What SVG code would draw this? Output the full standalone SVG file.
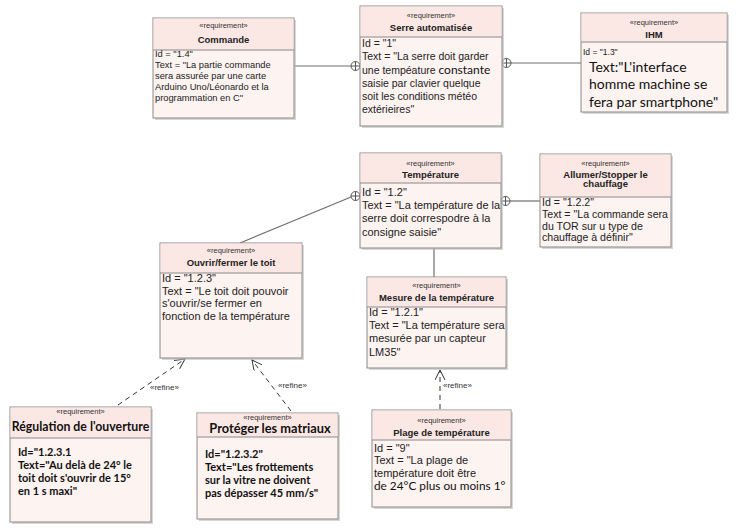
<svg xmlns="http://www.w3.org/2000/svg" width="744" height="531" viewBox="0 0 744 531">
<style>
.sh{fill:#bdbdbd;opacity:0.6}
.box{fill:#fdf3f1;stroke:#8a8a8a;stroke-width:1}
.hd{fill:#fbe8e5}
.sep{stroke:#8a8a8a;stroke-width:1}
.st{font-family:"Liberation Sans",Arial,sans-serif;font-size:7.5px;fill:#333;text-anchor:middle}
.nm{font-family:"Liberation Sans",Arial,sans-serif;font-size:9.5px;font-weight:bold;fill:#222;text-anchor:middle}
.tx{font-family:"Liberation Sans",Arial,sans-serif;fill:#222}
.cb{font-family:Lato,"Liberation Sans",sans-serif;fill:#111}
.bt{font-family:Lato,"Liberation Sans",sans-serif;font-weight:bold;fill:#111}
.ln{stroke:#6e6e6e;stroke-width:1.2;fill:none}
.dl{stroke:#333;stroke-width:1;stroke-dasharray:5 4;fill:none}
.lb{font-family:"Liberation Sans",Arial,sans-serif;font-size:8px;fill:#333}
</style>
<defs>
<g id="cp"><circle cx="0" cy="0" r="4.5" fill="#fff" stroke="#555" stroke-width="1"/><path d="M-4.5,0H4.5M0,-4.5V4.5" stroke="#555" stroke-width="1"/></g>
<marker id="ar" markerWidth="12" markerHeight="12" refX="10" refY="5" orient="auto" markerUnits="userSpaceOnUse"><path d="M0,0 L10,5 L0,10" fill="none" stroke="#333" stroke-width="1"/></marker>
</defs>

<g id="connectors">
<line class="ln" x1="294" y1="66" x2="352" y2="66"/>
<use href="#cp" x="355.5" y="66"/>
<line class="ln" x1="510" y1="63" x2="581" y2="63"/>
<use href="#cp" x="506.5" y="63"/>
<line class="ln" x1="509" y1="201" x2="540" y2="201"/>
<use href="#cp" x="505.5" y="201"/>
<line class="ln" x1="351" y1="197" x2="240" y2="243"/>
<use href="#cp" x="355.5" y="196"/>
<line class="ln" x1="434" y1="248" x2="434" y2="277"/>
<line class="dl" x1="118" y1="405" x2="185" y2="359" marker-end="url(#ar)"/>
<text class="lb" x="150" y="390">«refine»</text>
<line class="dl" x1="291" y1="411" x2="252" y2="360" marker-end="url(#ar)"/>
<text class="lb" x="278" y="388">«refine»</text>
<line class="dl" x1="440" y1="409" x2="440" y2="370" marker-end="url(#ar)"/>
<text class="lb" x="443" y="388">«refine»</text>
</g>

<g id="commande">
<rect class="sh" x="155" y="20" width="141" height="100"/>
<rect class="box" x="153" y="18" width="141" height="100"/>
<rect class="hd" x="153.5" y="18.5" width="140" height="32"/>
<line class="sep" x1="153" y1="50" x2="294" y2="50"/>
<text class="st" x="223.5" y="28">«requirement»</text>
<text class="nm" x="223.5" y="42.5">Commande</text>
<text class="tx" font-size="9.3" x="155"><tspan x="155" y="57">Id = "1.4"</tspan><tspan x="155" y="68">Text = "La partie commande</tspan><tspan x="155" y="79">sera assurée par une carte</tspan><tspan x="155" y="90">Arduino Uno/Léonardo et la</tspan><tspan x="155" y="101">programmation en C"</tspan></text>
</g>

<g id="serre">
<rect class="sh" x="362" y="8" width="142" height="120"/>
<rect class="box" x="360" y="6" width="142" height="120"/>
<rect class="hd" x="360.5" y="6.5" width="141" height="30.5"/>
<line class="sep" x1="360" y1="37" x2="502" y2="37"/>
<text class="st" x="431" y="18">«requirement»</text>
<text class="nm" x="431" y="31">Serre automatisée</text>
<text class="tx" font-size="10.5"><tspan x="362" y="47">Id = "1"</tspan><tspan x="362" y="60">Text = "La serre doit garder</tspan><tspan x="362" y="73.5">une tempéature <tspan class="cb" font-size="12">constante</tspan></tspan><tspan x="362" y="86.5">saisie par clavier quelque</tspan><tspan x="362" y="99.5">soit les conditions météo</tspan><tspan x="362" y="112.5">extérieires"</tspan></text>
</g>

<g id="ihm">
<rect class="sh" x="583" y="15" width="146" height="99"/>
<rect class="box" x="581" y="13" width="146" height="99"/>
<rect class="hd" x="581.5" y="13.5" width="145" height="28.5"/>
<line class="sep" x1="581" y1="42" x2="727" y2="42"/>
<text class="st" x="654" y="24.5">«requirement»</text>
<text class="nm" x="654" y="37.5" font-size="8.5">IHM</text>
<text class="tx" font-size="8.5" x="583" y="55">Id = "1.3"</text>
<text class="cb" font-size="14"><tspan x="589" y="71.5">Text:"L'interface</tspan><tspan x="589" y="89">homme machine se</tspan><tspan x="589" y="106.5">fera par smartphone"</tspan></text>
</g>

<g id="temperature">
<rect class="sh" x="362" y="155" width="141" height="95"/>
<rect class="box" x="360" y="153" width="141" height="95"/>
<rect class="hd" x="360.5" y="153.5" width="140" height="29.5"/>
<line class="sep" x1="360" y1="183" x2="501" y2="183"/>
<text class="st" x="430.5" y="166">«requirement»</text>
<text class="nm" x="430.5" y="178">Température</text>
<text class="tx" font-size="11"><tspan x="362" y="196">Id = "1.2"</tspan><tspan x="362" y="209">Text = "La température de la</tspan><tspan x="362" y="222">serre doit correspodre à la</tspan><tspan x="362" y="235.5">consigne saisie"</tspan></text>
</g>

<g id="allumer">
<rect class="sh" x="542" y="156" width="131" height="93"/>
<rect class="box" x="540" y="154" width="131" height="93"/>
<rect class="hd" x="540.5" y="154.5" width="130" height="42.5"/>
<line class="sep" x1="540" y1="197" x2="671" y2="197"/>
<text class="st" x="605.5" y="166">«requirement»</text>
<text class="nm" x="605.5" y="177.5">Allumer/Stopper le</text>
<text class="nm" x="605.5" y="187">chauffage</text>
<text class="tx" font-size="10.6"><tspan x="542" y="206">Id = "1.2.2"</tspan><tspan x="542" y="217.5">Text = "La commande sera</tspan><tspan x="542" y="229.5">du TOR sur u type de</tspan><tspan x="542" y="241">chauffage à définir"</tspan></text>
</g>

<g id="ouvrir">
<rect class="sh" x="162" y="245" width="142" height="115"/>
<rect class="box" x="160" y="243" width="142" height="115"/>
<rect class="hd" x="160.5" y="243.5" width="141" height="29.5"/>
<line class="sep" x1="160" y1="273" x2="302" y2="273"/>
<text class="st" x="231" y="253">«requirement»</text>
<text class="nm" x="231" y="266">Ouvrir/fermer le toit</text>
<text class="tx" font-size="11"><tspan x="162" y="282">Id = "1.2.3"</tspan><tspan x="162" y="294.5">Text = "Le toit doit pouvoir</tspan><tspan x="162" y="307">s'ouvrir/se fermer en</tspan><tspan x="162" y="320">fonction de la température</tspan></text>
</g>

<g id="mesure">
<rect class="sh" x="369" y="279" width="139" height="91"/>
<rect class="box" x="367" y="277" width="139" height="91"/>
<rect class="hd" x="367.5" y="277.5" width="138" height="29.5"/>
<line class="sep" x1="367" y1="307" x2="506" y2="307"/>
<text class="st" x="436.5" y="288">«requirement»</text>
<text class="nm" x="436.5" y="301">Mesure de la température</text>
<text class="tx" font-size="11"><tspan x="369" y="316">Id = "1.2.1"</tspan><tspan x="369" y="329">Text = "La température sera</tspan><tspan x="369" y="342">mesurée par un capteur</tspan><tspan x="369" y="355.5">LM35"</tspan></text>
</g>

<g id="regulation">
<rect class="sh" x="12" y="409" width="141" height="115"/>
<rect class="box" x="10" y="407" width="141" height="115"/>
<rect class="hd" x="10.5" y="407.5" width="140" height="30.5"/>
<line class="sep" x1="10" y1="438" x2="151" y2="438"/>
<text class="st" x="80.5" y="414">«requirement»</text>
<text class="bt" font-size="12.3" x="80.5" y="431" text-anchor="middle">Régulation de l'ouverture</text>
<text class="bt" font-size="11"><tspan x="18" y="456">Id="1.2.3.1</tspan><tspan x="18" y="469">Text="Au delà de 24° le</tspan><tspan x="18" y="482">toit doit s'ouvrir de 15°</tspan><tspan x="18" y="495">en 1 s maxi"</tspan></text>
</g>

<g id="proteger">
<rect class="sh" x="199" y="415" width="141" height="106"/>
<rect class="box" x="197" y="413" width="141" height="106"/>
<rect class="hd" x="197.5" y="413.5" width="140" height="23.5"/>
<line class="sep" x1="197" y1="437" x2="338" y2="437"/>
<text class="st" x="267.5" y="419.5">«requirement»</text>
<text class="bt" font-size="12.8" x="270" y="433" text-anchor="middle">Protéger les matriaux</text>
<text class="bt" font-size="11"><tspan x="205" y="458">Id="1.2.3.2"</tspan><tspan x="205" y="471">Text="Les frottements</tspan><tspan x="205" y="484">sur la vitre ne doivent</tspan><tspan x="205" y="497">pas dépasser 45 mm/s"</tspan></text>
</g>

<g id="plage">
<rect class="sh" x="374" y="412" width="139" height="97"/>
<rect class="box" x="372" y="410" width="139" height="97"/>
<rect class="hd" x="372.5" y="410.5" width="138" height="29.5"/>
<line class="sep" x1="372" y1="440" x2="511" y2="440"/>
<text class="st" x="441.5" y="423">«requirement»</text>
<text class="nm" x="441.5" y="436">Plage de température</text>
<text class="tx" font-size="11"><tspan x="374" y="452">Id = "9"</tspan><tspan x="374" y="464">Text = "La plage de</tspan><tspan x="374" y="477">température doit être</tspan></text>
<text class="cb" font-size="11.8" x="374" y="490">de 24°C plus ou moins 1°</text>
</g>
</svg>
